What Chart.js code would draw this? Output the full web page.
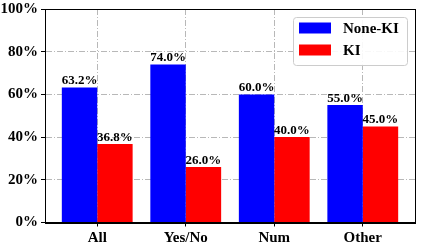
<!DOCTYPE html>
<html>
<head>
<meta charset="utf-8">
<script src="https://cdn.jsdelivr.net/npm/chart.js@4/dist/chart.umd.min.js"></script>
<style>
  html, body { margin: 0; padding: 0; background: #fff; }
  #wrap { width: 422px; height: 246px; position: relative; }
</style>
</head>
<body>
<div id="wrap"><canvas id="kiChart" width="422" height="246"></canvas></div>
<script>
// chart data
const categories = ['All', 'Yes/No', 'Num', 'Other'];
const noneKI = [63.2, 74.0, 60.0, 55.0];
const ki = [36.8, 26.0, 40.0, 45.0];
const seriesNames = ['None-KI', 'KI'];
const yTicks = [0, 20, 40, 60, 80, 100];

const serif = '"Liberation Serif", "Times New Roman", serif';

// value labels above each bar
const barLabels = {
    id: 'barLabels',
    afterDatasetsDraw(chart) {
        const ctx = chart.ctx;
        ctx.save();
        ctx.font = 'bold 13px ' + serif;
        ctx.fillStyle = '#000';
        ctx.textAlign = 'center';
        ctx.textBaseline = 'bottom';
        chart.data.datasets.forEach((ds, i) => {
            chart.getDatasetMeta(i).data.forEach((bar, j) => {
                ctx.fillText(ds.data[j].y.toFixed(1) + '%', bar.x, bar.y);
            });
        });
        ctx.restore();
    }
};

// frame around plot + legend box in the corner
const frameAndLegend = {
    id: 'frameAndLegend',
    afterDraw(chart) {
        const ctx = chart.ctx;
        const a = chart.chartArea;
        ctx.save();
        ctx.strokeStyle = '#000';
        ctx.lineWidth = 1;
        ctx.strokeRect(Math.round(a.left) + 0.5, Math.round(a.top) + 0.5,
            Math.round(a.right - a.left), Math.round(a.bottom - a.top));

        const bx = 293.5, by = 17.5, bw = 114, bh = 48;
        ctx.fillStyle = 'rgba(255,255,255,0.9)';
        ctx.strokeStyle = '#cccccc';
        ctx.beginPath();
        ctx.roundRect(bx, by, bw, bh, 3);
        ctx.fill();
        ctx.stroke();

        ctx.font = 'bold 15px ' + serif;
        ctx.textBaseline = 'middle';
        chart.data.datasets.forEach((ds, i) => {
            const cy = 28 + i * 22;
            ctx.fillStyle = ds.backgroundColor;
            ctx.fillRect(299, cy - 5.5, 32, 11);
            ctx.fillStyle = '#000';
            ctx.fillText(seriesNames[i], 343, cy + 1);
        });
        ctx.restore();
    }
};

const ctx = document.getElementById('kiChart').getContext('2d');
const chart = new Chart(ctx, {
    type: 'bar',
    data: {
        datasets: [{
            label: seriesNames[0],
            data: noneKI.map((v, i) => ({ x: i, y: v })),
            backgroundColor: '#0000ff',
            borderWidth: 0
        }, {
            label: seriesNames[1],
            data: ki.map((v, i) => ({ x: i, y: v })),
            backgroundColor: '#ff0000',
            borderWidth: 0
        }]
    },
    options: {
        responsive: false,
        animation: false,
        categoryPercentage: 0.8,
        barPercentage: 1.0,
        layout: { padding: { top: 9, right: 7, left: 0, bottom: 0 } },
        plugins: {
            legend: { display: false },
            tooltip: { enabled: false }
        },
        scales: {
            x: {
                type: 'linear',
                min: -0.59,
                max: 3.59,
                offset: false,
                afterBuildTicks(scale) {
                    scale.ticks = categories.map((c, i) => ({ value: i }));
                },
                afterFit(scale) { scale.height = 23.5; },
                ticks: {
                    callback: (v) => categories[v],
                    font: { family: serif, size: 15, weight: 'bold' },
                    color: '#000',
                    padding: 3,
                    maxRotation: 0
                },
                grid: {
                    offset: false,
                    color: '#b8b8b8',
                    lineWidth: 1,
                    tickColor: '#000',
                    tickLength: 4,
                    tickBorderDash: []
                },
                border: { color: '#000', width: 1, dash: [6, 2, 1, 2] }
            },
            y: {
                min: 0,
                max: 100,
                afterBuildTicks(scale) {
                    scale.ticks = yTicks.map(v => ({ value: v }));
                },
                afterFit(scale) { scale.width = 45; },
                ticks: {
                    callback: (v) => v + '%',
                    font: { family: serif, size: 15, weight: 'bold', lineHeight: 0.8 },
                    color: '#000',
                    padding: 3
                },
                grid: {
                    color: '#b8b8b8',
                    lineWidth: 1,
                    tickColor: '#000',
                    tickLength: 4,
                    tickBorderDash: []
                },
                border: { color: '#000', width: 1, dash: [6, 2, 1, 2] }
            }
        }
    },
    plugins: [barLabels, frameAndLegend]
});
</script>
</body>
</html>
